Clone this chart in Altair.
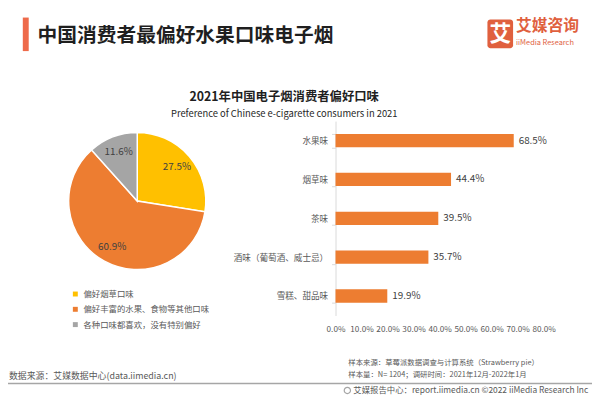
import altair as alt
import pandas as pd

# ---------------- data ----------------
pie_labels = ["偏好烟草口味", "偏好丰富的水果、食物等其他口味", "各种口味都喜欢，没有特别偏好"]
pie_values = [27.5, 60.9, 11.6]
pie_colors = ["#FFC000", "#ED7D31", "#A5A5A5"]

bar_categories = ["水果味", "烟草味", "茶味", "酒味（葡萄酒、威士忌）", "雪糕、甜品味"]
bar_values = [68.5, 44.4, 39.5, 35.7, 19.9]
x_ticks = [0, 10, 20, 30, 40, 50, 60, 70, 80]

main_title = "中国消费者最偏好水果口味电子烟"
chart_title = "2021年中国电子烟消费者偏好口味"
chart_subtitle = "Preference of Chinese e-cigarette consumers in 2021"
source_left = "数据来源：艾媒数据中心(data.iimedia.cn)"
sample_source = "样本来源：草莓派数据调查与计算系统（Strawberry pie）"
sample_size = "样本量：N= 1204；调研时间：2021年12月-2022年1月"
footer_right = "艾媒报告中心：report.iimedia.cn   ©2022   iiMedia Research Inc"

FONT = "Noto Sans CJK SC"
W, H = 592, 392


def X(px):
    return px - 8


def Y(py):
    return py - 8


pie_df = pd.DataFrame({
    "cat": pie_labels,
    "val": pie_values,
    "ord": list(range(len(pie_values))),
    "lab": [f"{v}%" for v in pie_values],
})
bar_df = pd.DataFrame({
    "cat": bar_categories,
    "val": bar_values,
    "lab": [f"{v}%" for v in bar_values],
})
one = pd.DataFrame({"k": [0]})


def txt(s, x, y, size, color="#595959", align="left", weight="normal", baseline="middle", font=FONT):
    return alt.Chart(pd.DataFrame({"t": [s]})).mark_text(
        align=align, baseline=baseline, fontSize=size, color=color,
        font=font, fontWeight=weight
    ).encode(x=alt.value(X(x)), y=alt.value(Y(y)), text="t:N")


# ---------------- header ----------------
title_bar = alt.Chart(one).mark_rect(color="#EE6A4A").encode(
    x=alt.value(X(23)), x2=alt.value(X(29)), y=alt.value(Y(15)), y2=alt.value(Y(49))
)
title_txt = txt(main_title, 38, 34, 20, color="#1F1F1F", weight="bold")
logo_box = alt.Chart(one).mark_rect(color="#E0603E", cornerRadius=3).encode(
    x=alt.value(X(494)), x2=alt.value(X(520)), y=alt.value(Y(17)), y2=alt.value(Y(46))
)
logo_char = txt("艾", 507, 32, 22, color="white", align="center", weight="bold")
logo_cn = txt("艾媒咨询", 523, 24, 16, color="#E0603E", weight="bold")
logo_en = txt("iiMedia Research", 523, 41, 7.5, color="#E0603E")

ctitle = txt(chart_title, 288, 96, 12.5, color="#1F1F1F", align="center", weight="bold")
csub = txt(chart_subtitle, 288, 113, 9.5, color="#262626", align="center")

# ---------------- pie ----------------
pie_base = alt.Chart(pie_df).encode(
    theta=alt.Theta("val:Q", stack=True),
    order=alt.Order("ord:Q"),
    x=alt.value(X(139)),
    y=alt.value(Y(201)),
)
pie = pie_base.mark_arc(radius=69.5, stroke="white", strokeWidth=1.5).encode(
    color=alt.Color(
        "cat:N",
        scale=alt.Scale(domain=pie_labels, range=pie_colors),
        legend=alt.Legend(
            title=None, orient="none", legendX=X(72), legendY=Y(291),
            symbolType="square", symbolSize=25, symbolStrokeWidth=0,
            labelFont=FONT, labelFontSize=8.5, labelColor="#595959",
            rowPadding=6.5, labelOffset=4,
        ),
    )
)
pie_text = pie_base.mark_text(radius=53, fontSize=10, color="#404040", font=FONT).encode(
    text="lab:N"
)

# ---------------- bars ----------------
bar_base = alt.Chart(bar_df).encode(
    x=alt.X(
        "val:Q",
        scale=alt.Scale(domain=[0, 80], range=[X(340), X(551)], nice=False, zero=True),
        axis=alt.Axis(
            title=None, values=x_ticks, labelExpr="format(datum.value, '.1f') + '%'",
            domain=False, ticks=False, tickSize=0, grid=False, orient="bottom",
            offset=Y(326) - H, labelPadding=0, labelBaseline="top",
            labelFont=FONT, labelFontSize=8.3, labelColor="#595959", labelOverlap=False,
            labelFlush=False,
        ),
    ),
    y=alt.Y(
        "cat:N",
        sort=bar_categories,
        scale=alt.Scale(range=[Y(120), Y(317)], paddingInner=0.657, paddingOuter=0.33),
        axis=alt.Axis(
            title=None, orient="left", offset=-X(340), domainColor="#D9D9D9",
            tickColor="#D9D9D9", tickSize=4, tickBand="extent", labelPadding=4,
            labelFont=FONT, labelFontSize=8.7, labelColor="#595959", grid=False,
        ),
    ),
)
bars = bar_base.mark_bar(color="#ED7D31")
bar_text = bar_base.mark_text(align="left", dx=5, fontSize=10, color="#404040", font=FONT).encode(
    text="lab:N"
)

# ---------------- footer ----------------
src1 = txt(sample_source, 353, 365, 7.5)
src2 = txt(sample_size, 353, 377, 7.5)
srcl = txt(source_left, 9, 378, 9)
rule = alt.Chart(one).mark_rule(color="#A6A6A6", strokeWidth=1.5).encode(
    x=alt.value(0), x2=alt.value(W), y=alt.value(Y(386))
)
icon = alt.Chart(one).mark_point(shape="circle", size=40, color="#7F7F7F", strokeWidth=1.2).encode(
    x=alt.value(X(352)), y=alt.value(Y(393))
)
foot = txt(footer_right, 358, 393, 8.5)

chart = alt.layer(
    title_bar, title_txt, logo_box, logo_char, logo_cn, logo_en,
    ctitle, csub,
    pie, pie_text,
    bars, bar_text,
    src1, src2, srcl, rule, icon, foot,
).resolve_scale(color="independent").properties(
    width=W, height=H, padding=0,
    autosize=alt.AutoSizeParams(type="none"),
    background="white",
).configure_view(strokeWidth=0)

chart.save("out.html", embed_options={"renderer": "svg", "actions": False})
